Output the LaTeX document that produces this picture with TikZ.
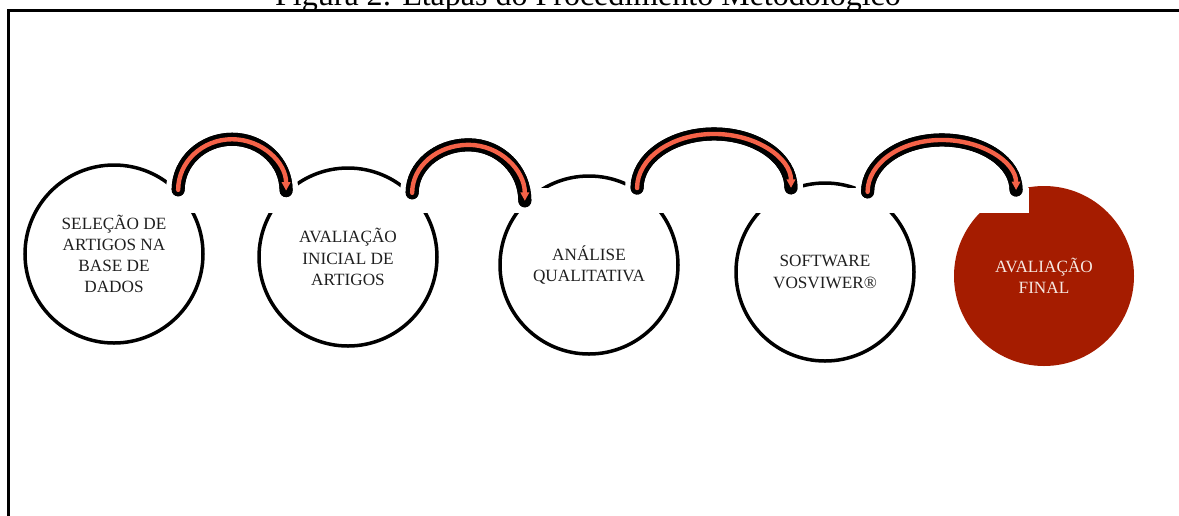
\documentclass[tikz,border=0pt]{standalone}
\usepackage{fontspec}
\setmainfont{Liberation Serif}
\usetikzlibrary{calc,arrows.meta}
\definecolor{finalred}{RGB}{165,28,0}
\definecolor{arroworange}{RGB}{245,98,72}
\definecolor{lighttext}{RGB}{246,232,226}
\begin{document}
\begin{tikzpicture}[x=0.5pt,y=-0.5pt,
  stage/.style={circle,draw=black,line width=1.75pt,minimum size=89pt,inner sep=0pt,
    align=center,font=\fontsize{8.6}{10.6}\selectfont,text=black!88},
  finalstage/.style={circle,draw=none,fill=finalred,minimum size=90pt,inner sep=0pt,
    align=center,font=\fontsize{8.6}{10.6}\selectfont,text=lighttext},
  halo/.style={draw=white,line width=12pt,line cap=round},
  arrowbody/.style={draw=black,line width=6.5pt,line cap=round},
  arrowcore/.style={draw=arroworange,line width=2.2pt,line cap=round,
    -{Triangle[length=4.2pt,width=4.2pt]}},
  frameline/.style={line width=1.5pt}]
\useasboundingbox (0,0) rectangle (1179,515);

\node[anchor=base,font=\fontsize{16}{18}\selectfont] (title) at (588,5.5)
  {Figura 2: Etapas do Procedimento Metodológico};
\draw[frameline] (8,530) -- (8,10.5) -- (1195,10.5);

\node[stage] (c1) at (114,254) {SELEÇÃO DE\\ARTIGOS NA\\BASE DE\\DADOS};
\node[stage] (c2) at (348,257) {AVALIAÇÃO\\INICIAL DE\\ARTIGOS};
\node[stage] (c3) at (589,265) {ANÁLISE\\QUALITATIVA};
\node[stage] (c4) at (825,272) {SOFTWARE\\VOSVIWER®};
\node[finalstage] (c5) at (1044,276) {AVALIAÇÃO\\FINAL};

% white band hiding the tops of the circles
\fill[white] (170,188) rectangle (1029,213);

\newcommand\arcpath{(sa) .. controls ($(sa)!0.552!(cl)$) and ($(pk)!0.552!(cl)$) .. (pk)
  .. controls ($(pk)!0.552!(cr)$) and ($(ea)!0.552!(cr)$) .. (ea)}
\newcommand\stagearrow[3]{%
  \coordinate (sa) at (#1);
  \coordinate (ea) at (#2);
  \coordinate (pk) at ($(sa)!0.5!(ea)+(0,-#3)$);
  \coordinate (cl) at (sa |- pk);
  \coordinate (cr) at (ea |- pk);
  \path[halo] \arcpath;
  \path[arrowbody,shift={(1.5,2.5)}] \arcpath;
  \path[arrowbody] \arcpath;
  \path[arrowcore] \arcpath;
}
\stagearrow{c1.45}{c2.133}{51}
\stagearrow{c2.45}{c3.135}{52}
\stagearrow{c3.58}{c4.112}{54}
\stagearrow{c4.62}{c5.108}{51}
\end{tikzpicture}
\end{document}
